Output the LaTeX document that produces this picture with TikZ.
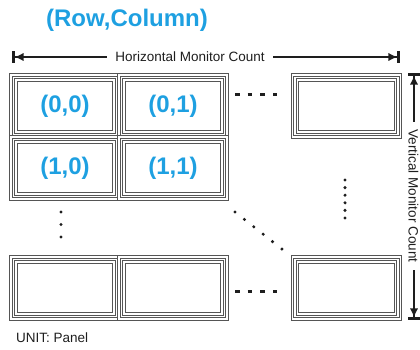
\documentclass[tikz,border=0pt]{standalone}
\usepackage{fontspec}
\setmainfont{Liberation Sans}
\usetikzlibrary{arrows.meta}

\definecolor{idblue}{RGB}{30,160,225}
\definecolor{framegray}{RGB}{85,85,85}
\definecolor{ink}{RGB}{30,30,30}

\tikzset{
  panel/.style={draw=framegray, double=white, double distance=1.5pt, line width=0.85pt,
    minimum width=108pt, minimum height=62pt, inner sep=0pt, outer sep=0pt},
  bezel/.style={panel, minimum width=98pt, minimum height=52pt,
    font=\fontsize{24}{28}\selectfont\bfseries, text=idblue},
  dimline/.style={draw=ink, line width=2pt,
    {Bar[width=12pt,line width=2.6pt]Latex[length=9pt,width=8.5pt]}-{Latex[length=9pt,width=8.5pt]Bar[width=12pt,line width=2.6pt]}},
  dimlabel/.style={fill=white, text=ink, font=\fontsize{13.5}{16}\selectfont,
    inner xsep=8pt, inner ysep=1pt},
  dashrow/.style={draw=ink, line width=3pt, dash pattern=on 4.5pt off 8.2pt},
  dotrow/.style={draw=ink, line width=3.4pt, line cap=round, dash pattern=on 0pt off #1},
}

\begin{document}
\begin{tikzpicture}[x=1pt, y=-1pt]
\useasboundingbox (0,0) rectangle (420,350);

% caption
\node[font=\fontsize{24}{28}\selectfont\bfseries, text=idblue] (title) at (127,20) {(Row,Column)};

% horizontal dimension
\coordinate (hl) at (12,57);
\coordinate (hr) at (400,57);
\draw[dimline] (hl) -- (hr);
\node[dimlabel] (hlab) at (190,57) {Horizontal Monitor Count};

% vertical dimension
\coordinate (vt) at (414,73);
\coordinate (vb) at (414,320);
\draw[dimline] (vt) -- (vb);
\node[dimlabel, rotate=-90, inner ysep=0pt] (vlab) at (413.5,196) {Vertical Monitor Count};

% panel grid: outer frame plus inner bezel
\node[panel] (p00) at (65,106) {};
\node[bezel] (b00) at (p00) {(0,0)};
\node[panel] (p01) at (173,106) {};
\node[bezel] (b01) at (p01) {(0,1)};
\node[panel] (p0N) at (346.5,106) {};
\node[bezel] (b0N) at (p0N) {};

\node[panel] (p10) at (65,168) {};
\node[bezel] (b10) at (p10) {(1,0)};
\node[panel] (p11) at (173,168) {};
\node[bezel] (b11) at (p11) {(1,1)};

\node[panel] (pN0) at (65,288) {};
\node[bezel] (bN0) at (pN0) {};
\node[panel] (pN1) at (173,288) {};
\node[bezel] (bN1) at (pN1) {};
\node[panel] (pNN) at (346.5,288) {};
\node[bezel] (bNN) at (pNN) {};

% ellipsis marks
\coordinate (r0a) at (235,95);  \coordinate (r0b) at (277,95);
\coordinate (rNa) at (235,291); \coordinate (rNb) at (277,291);
\draw[dashrow] (r0a) -- (r0b);
\draw[dashrow] (rNa) -- (rNb);

\coordinate (c0a) at (61,212);  \coordinate (c0b) at (61,237.5);
\draw[dotrow=12.5pt] (c0a) -- (c0b);
\coordinate (cNa) at (345,180); \coordinate (cNb) at (345,218.5);
\draw[dotrow=7.6pt] (cNa) -- (cNb);
\coordinate (da) at (235,212);  \coordinate (db) at (282.3,249.3);
\draw[dotrow=11.96pt] (da) -- (db);

% unit note
\node[font=\fontsize{13.5}{16}\selectfont, text=ink, anchor=west, inner sep=0pt] (unit) at (16,338) {UNIT: Panel};
\end{tikzpicture}
\end{document}
